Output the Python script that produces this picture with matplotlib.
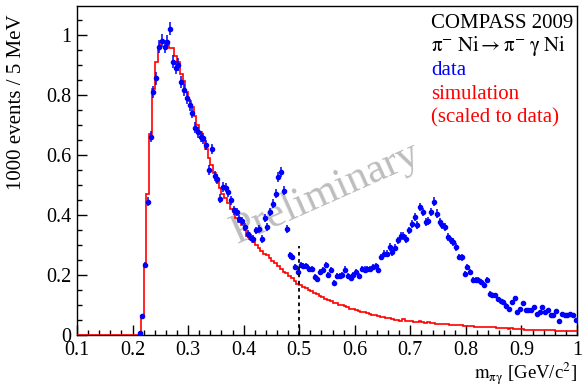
import numpy as np
import matplotlib
matplotlib.use('Agg')
import matplotlib.pyplot as plt
from matplotlib.ticker import MultipleLocator, FuncFormatter

plt.rcParams['font.family'] = ['Liberation Serif', 'DejaVu Serif']
plt.rcParams['mathtext.fontset'] = 'stix'

# histogram binning (GeV/c^2), 5 MeV bins
bin_width = 0.005
sim_start = 0.1     # left edge of first simulation bin
data_start = 0.21   # left edge of first data bin

# simulation (scaled to data), 1000 events / 5 MeV
sim_vals = [
    0, 0, 0, 0, 0, 0, 0, 0, 0, 0,
    0, 0, 0, 0, 0, 0, 0, 0, 0, 0,
    0, 0, 0,
    0.06, 0.235, 0.47, 0.67, 0.82, 0.91, 0.955, 0.975, 0.975, 0.965,
    0.955, 0.955, 0.93, 0.91, 0.87, 0.845, 0.81, 0.78, 0.76, 0.73,
    0.70, 0.675, 0.645, 0.62, 0.59, 0.565, 0.54, 0.51, 0.49, 0.47,
    0.455, 0.44, 0.42, 0.41, 0.39, 0.375, 0.365, 0.35, 0.33, 0.32,
    0.31, 0.30, 0.29, 0.28, 0.27, 0.265, 0.255, 0.245, 0.24, 0.23,
    0.22, 0.21, 0.205, 0.195, 0.19, 0.18, 0.17, 0.165, 0.16, 0.155,
    0.15, 0.145, 0.14, 0.135, 0.13, 0.125, 0.12, 0.118, 0.112, 0.108,
    0.105, 0.10, 0.10, 0.095, 0.092, 0.088, 0.085, 0.082, 0.08, 0.078,
    0.075, 0.072, 0.07, 0.068, 0.065, 0.062, 0.06, 0.06, 0.056, 0.055,
    0.052, 0.05, 0.05, 0.048, 0.052, 0.047, 0.046, 0.045, 0.044, 0.043,
    0.045, 0.042, 0.041, 0.042, 0.04, 0.039, 0.038, 0.038, 0.036, 0.037,
    0.035, 0.034, 0.034, 0.033, 0.032, 0.033, 0.031, 0.03, 0.03, 0.029,
    0.028, 0.028, 0.027, 0.027, 0.026, 0.026, 0.025, 0.025, 0.024, 0.024,
    0.023, 0.022, 0.021, 0.022, 0.02, 0.02, 0.019, 0.019, 0.018, 0.018,
    0.017, 0.017, 0.016, 0.016, 0.016, 0.017, 0.015, 0.015, 0.015, 0.014,
    0.014, 0.014, 0.013, 0.014, 0.013, 0.012, 0.013,
]

# measured data, 1000 events / 5 MeV
data_vals = [
    0.005, 0.062, 0.232, 0.443, 0.66, 0.81, 0.854, 0.96, 0.98, 0.96,
    0.976, 1.02, 0.91, 0.89, 0.90, 0.843, 0.815, 0.79, 0.765, 0.74,
    0.69, 0.675, 0.66, 0.655, 0.632, 0.548, 0.62, 0.53, 0.52, 0.454,
    0.493, 0.49, 0.476, 0.448, 0.415, 0.41, 0.387, 0.38, 0.36, 0.337,
    0.324, 0.32, 0.348, 0.354, 0.32, 0.39, 0.36, 0.41, 0.437, 0.47,
    0.526, 0.543, 0.48, 0.354, 0.265, 0.26, 0.226, 0.21, 0.232, 0.23,
    0.23, 0.22, 0.22, 0.193, 0.185, 0.21, 0.215, 0.232, 0.2, 0.215,
    0.173, 0.197, 0.197, 0.2, 0.218, 0.197, 0.19, 0.2, 0.21, 0.197,
    0.22, 0.218, 0.22, 0.22, 0.226, 0.23, 0.216, 0.26, 0.27, 0.27,
    0.293, 0.276, 0.29, 0.315, 0.33, 0.33, 0.32, 0.348, 0.37, 0.393,
    0.365, 0.426, 0.41, 0.376, 0.38, 0.41, 0.443, 0.404, 0.376, 0.365,
    0.36, 0.326, 0.315, 0.31, 0.293, 0.26, 0.258, 0.204, 0.226, 0.21,
    0.182, 0.182, 0.182, 0.177, 0.168, 0.182, 0.137, 0.132, 0.132, 0.12,
    0.113, 0.109, 0.098, 0.087, 0.11, 0.123, 0.076, 0.087, 0.106, 0.082,
    0.082, 0.084, 0.093, 0.071, 0.076, 0.093, 0.076, 0.082, 0.068, 0.068,
    0.079, 0.046, 0.07, 0.065, 0.066, 0.07, 0.066, 0.051,
]
err_scale = 0.022   # statistical error ~ err_scale * sqrt(value)

cut_mass = 0.5
cut_top = 0.295

x_range = (0.1, 1.0)
y_range = (0.0, 1.095)


def main():
    fig = plt.figure(figsize=(5.83, 3.87), dpi=100)
    ax = fig.add_axes([77 / 583, 52 / 387, 500 / 583, 329 / 387])

    # watermark
    ax.text(0.497, 0.43, 'Preliminary', transform=ax.transAxes, fontsize=31,
            color='#bdbdbd', rotation=24, ha='center', va='center',
            rotation_mode='anchor', zorder=1)

    # simulation histogram
    sim = np.array(sim_vals)
    edges = sim_start + bin_width * np.arange(len(sim) + 1)
    ax.stairs(sim, edges, color='red', lw=1.2, baseline=None, zorder=3)

    # data points
    data = np.array(data_vals)
    centers = data_start + bin_width * (np.arange(len(data)) + 0.5)
    ax.errorbar(centers, data, yerr=err_scale * np.sqrt(data), xerr=bin_width / 2,
                fmt='o', ms=3.0, color='blue', elinewidth=1.1, capsize=0, zorder=4)

    # cut line
    ax.plot([cut_mass, cut_mass], [0, cut_top], color='black', lw=1.3,
            ls=(0, (2, 2)), zorder=5)

    ax.set_xlim(*x_range)
    ax.set_ylim(*y_range)
    ax.xaxis.set_major_locator(MultipleLocator(0.1))
    ax.xaxis.set_minor_locator(MultipleLocator(0.02))
    ax.yaxis.set_major_locator(MultipleLocator(0.2))
    ax.yaxis.set_minor_locator(MultipleLocator(0.05))
    fmt = FuncFormatter(lambda v, pos: f'{v:g}')
    ax.xaxis.set_major_formatter(fmt)
    ax.yaxis.set_major_formatter(fmt)
    ax.tick_params(which='both', direction='in', top=False, right=False,
                   labelsize=14.5, width=1.0)
    ax.tick_params(which='major', length=7)
    ax.tick_params(which='minor', length=3.5)
    ax.tick_params(axis='x', pad=4.5)
    ax.tick_params(axis='y', pad=4)
    for sp in ax.spines.values():
        sp.set_linewidth(1.0)

    fig.text(577 / 583, 1 - 379 / 387, r'$\mathrm{m_{\pi\gamma}}$ [GeV/c$^{2}$]',
             fontsize=13.5, ha='right', va='baseline')
    fig.text(17 / 583, 1 - 14 / 387, '1000 events / 5 MeV', fontsize=15,
             rotation=90, ha='center', va='top')

    # labels in the upper right corner
    x0 = 431 / 583
    labels = [
        ('COMPASS 2009', 'black', 28),
        (r'$\mathrm{\pi^{-}\;Ni\rightarrow\pi^{-}\;\gamma\;Ni}$', 'black', 51),
        ('data', 'blue', 75),
        ('simulation', 'red', 99),
        ('(scaled to data)', 'red', 122),
    ]
    for txt, col, base in labels:
        fig.text(x0, 1 - base / 387, txt, color=col, fontsize=15,
                 ha='left', va='baseline')

    fig.savefig('out.png', dpi=100)


if __name__ == '__main__':
    main()
